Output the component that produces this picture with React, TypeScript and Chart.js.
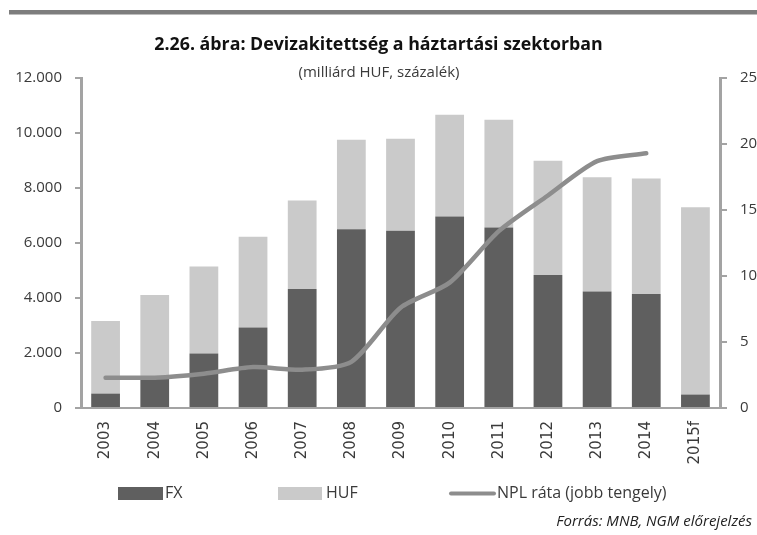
import React, { useEffect, useRef } from "react";
import { Chart, registerables } from "chart.js";

Chart.register(...registerables);

const years = ["2003", "2004", "2005", "2006", "2007", "2008", "2009", "2010", "2011", "2012", "2013", "2014", "2015f"];
const fxValues = [525, 1080, 1980, 2930, 4330, 6500, 6450, 6960, 6560, 4840, 4240, 4150, 490];
const hufValues = [2635, 3025, 3170, 3300, 3215, 3255, 3340, 3705, 3925, 4150, 4155, 4195, 6810];
const nplValues: (number | null)[] = [2.3, 2.3, 2.6, 3.1, 2.9, 3.5, 7.6, 9.5, 13.4, 16.1, 18.7, 19.3, null];

const titleText = "2.26. ábra: Devizakitettség a háztartási szektorban";
const subtitleText = "(milliárd HUF, százalék)";
const sourceText = "Forrás: MNB, NGM előrejelzés";
const legendLabels = ["FX", "HUF", "NPL ráta (jobb tengely)"];

const FX_COLOR = "#5f5f5f";
const HUF_COLOR = "#cacaca";
const NPL_COLOR = "#8d8d8d";
const AXIS_COLOR = "#a3a3a3";
const TEXT_COLOR = "#3a3a3a";
const FONT = "'Open Sans', 'Noto Sans', sans-serif";

const W = 757;
const H = 535;

const decorPlugin = {
  id: "decor",
  afterDraw(chart: any) {
    const ctx = chart.ctx as CanvasRenderingContext2D;
    ctx.save();
    // top rule
    ctx.fillStyle = "#7d7d7d";
    ctx.fillRect(9, 10, W - 9, 4.5);
    // title
    ctx.fillStyle = "#111";
    ctx.textAlign = "center";
    ctx.textBaseline = "middle";
    ctx.font = `bold 17.8px ${FONT}`;
    ctx.fillText(titleText, 378.5, 45);
    ctx.font = `15px ${FONT}`;
    ctx.fillStyle = TEXT_COLOR;
    ctx.fillText(subtitleText, 379, 73);
    // source
    ctx.font = `italic 15px ${FONT}`;
    ctx.textAlign = "right";
    ctx.fillStyle = "#222";
    ctx.fillText(sourceText, 752, 522);
    // legend
    const ly = 493.5;
    ctx.textAlign = "left";
    ctx.font = `16px ${FONT}`;
    ctx.fillStyle = FX_COLOR;
    ctx.fillRect(118, 487, 45, 13);
    ctx.fillStyle = TEXT_COLOR;
    ctx.fillText(legendLabels[0], 165, ly);
    ctx.fillStyle = HUF_COLOR;
    ctx.fillRect(278, 487, 44, 13);
    ctx.fillStyle = TEXT_COLOR;
    ctx.fillText(legendLabels[1], 326, ly);
    ctx.strokeStyle = NPL_COLOR;
    ctx.lineWidth = 4;
    ctx.lineCap = "round";
    ctx.beginPath();
    ctx.moveTo(451, ly);
    ctx.lineTo(494, ly);
    ctx.stroke();
    ctx.fillStyle = TEXT_COLOR;
    ctx.fillText(legendLabels[2], 497, ly);
    ctx.restore();
  },
};

export default function App() {
  const ref = useRef<HTMLCanvasElement | null>(null);
  useEffect(() => {
    if (!ref.current) return;
    const chart = new Chart(ref.current, {
      type: "bar",
      data: {
        labels: years,
        datasets: [
          {
            type: "line",
            label: legendLabels[2],
            data: nplValues,
            yAxisID: "y1",
            borderColor: NPL_COLOR,
            backgroundColor: NPL_COLOR,
            borderWidth: 4.5,
            pointRadius: 0,
            tension: 0.25,
            borderCapStyle: "round",
            borderJoinStyle: "round",
            order: 0,
          } as any,
          {
            label: legendLabels[0],
            data: fxValues,
            backgroundColor: FX_COLOR,
            stack: "s",
            yAxisID: "y",
            order: 1,
          },
          {
            label: legendLabels[1],
            data: hufValues,
            backgroundColor: HUF_COLOR,
            stack: "s",
            yAxisID: "y",
            order: 1,
          },
        ],
      },
      options: {
        responsive: false,
        animation: false,
        devicePixelRatio: 1,
        layout: { padding: { top: 78, left: 0, right: 0, bottom: 0 } },
        datasets: { bar: { categoryPercentage: 1, barPercentage: 0.585 } },
        plugins: { legend: { display: false }, tooltip: { enabled: false }, title: { display: false } },
        scales: {
          x: {
            stacked: true,
            grid: { display: false, drawTicks: false },
            border: { color: AXIS_COLOR, width: 2 },
            ticks: {
              autoSkip: false,
              minRotation: 90,
              maxRotation: 90,
              padding: 13,
              color: TEXT_COLOR,
              font: { family: "'DejaVu Sans', sans-serif", size: 15 },
            },
            afterFit: (s: any) => {
              s.height = 127;
            },
          },
          y: {
            stacked: true,
            position: "left",
            min: 0,
            max: 12000,
            grid: { drawOnChartArea: false, tickLength: 6, color: AXIS_COLOR, lineWidth: 2 },
            border: { color: AXIS_COLOR, width: 3 },
            ticks: {
              stepSize: 2000,
              padding: 13,
              color: TEXT_COLOR,
              font: { family: FONT, size: 15 },
              callback: (v: any) => Number(v).toLocaleString("de-DE"),
            },
            afterFit: (s: any) => {
              s.width = 81;
            },
          },
          y1: {
            position: "right",
            min: 0,
            max: 25,
            grid: { drawOnChartArea: false, tickLength: 7, color: AXIS_COLOR, lineWidth: 2 },
            border: { color: AXIS_COLOR, width: 3 },
            ticks: {
              stepSize: 5,
              padding: 13,
              color: TEXT_COLOR,
              font: { family: FONT, size: 15 },
            },
            afterFit: (s: any) => {
              s.width = 37;
            },
          },
        },
      },
      plugins: [decorPlugin],
    });
    return () => chart.destroy();
  }, []);
  return (
    <div style={{ position: "fixed", left: 0, top: 0, width: W, height: H, background: "#fff" }}>
      <canvas ref={ref} width={W} height={H} style={{ width: W, height: H, display: "block" }} />
    </div>
  );
}
